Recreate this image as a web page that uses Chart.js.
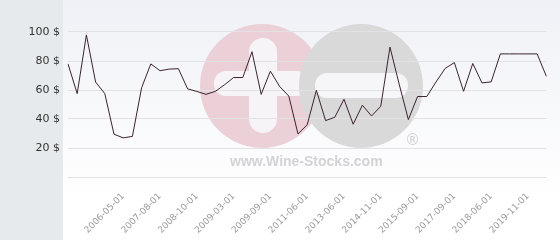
<!DOCTYPE html>
<html>
<head>
<meta charset="utf-8">
<script src="https://cdn.jsdelivr.net/npm/chart.js@4/dist/chart.umd.min.js"></script>
<style>
  html, body { margin: 0; padding: 0; background: #fff; }
  canvas { display: block; }
</style>
</head>
<body>
<canvas id="priceChart" width="560" height="240"></canvas>
<script>
// price history (USD)
const dates = [
    '2005-02-01', '2005-06-01', '2005-09-01', '2005-11-01', '2006-01-01', '2006-03-01',
    '2006-05-01', '2006-09-01', '2006-12-01', '2007-03-01', '2007-08-01', '2007-11-01',
    '2008-02-01', '2008-06-01', '2008-10-01', '2008-12-01', '2009-01-01', '2009-02-01',
    '2009-03-01', '2009-05-01', '2009-06-01', '2009-08-01', '2009-09-01', '2010-02-01',
    '2010-07-01', '2010-12-01', '2011-06-01', '2011-12-01', '2012-06-01', '2012-12-01',
    '2013-06-01', '2013-10-01', '2014-02-01', '2014-06-01', '2014-11-01', '2015-02-01',
    '2015-04-01', '2015-06-01', '2015-09-01', '2016-03-01', '2016-09-01', '2017-03-01',
    '2017-09-01', '2017-11-01', '2018-01-01', '2018-03-01', '2018-06-01', '2018-11-01',
    '2019-02-01', '2019-06-01', '2019-11-01', '2020-03-01', '2020-07-01',
];
const prices = [
    78, 57.5, 98, 65.5, 57.5, 29.5, 27, 28, 61.5, 78, 73.3, 74.4,
    74.7, 60.8, 59, 57, 59, 63.5, 68.6, 68.6, 86.4, 57, 73, 62.5,
    55.8, 29.7, 36, 59.8, 38.9, 41.2, 53.6, 36.4, 49.5, 42.1, 48.8, 89.6,
    64, 39.6, 55.5, 55.5, 65.5, 74.9, 78.9, 59.1, 78.3, 64.9, 65.6, 84.9,
    84.9, 84.9, 84.9, 84.9, 69.4,
];
// dates that get a label on the x axis
const shownDates = [
    '2006-05-01', '2007-08-01', '2008-10-01', '2009-03-01', '2009-09-01', '2011-06-01',
    '2013-06-01', '2014-11-01', '2015-09-01', '2017-09-01', '2018-06-01', '2019-11-01',
];
const yTicks = [0, 20, 40, 60, 80, 100];

// side panel, soft background and the site watermark
const backdrop = {
    id: 'backdrop',
    beforeDraw(chart) {
        const c = chart.ctx;
        const w = chart.width, h = chart.height;
        c.save();
        c.fillStyle = '#e6eaed';
        c.fillRect(0, 0, 63, h);
        const g = c.createLinearGradient(0, 0, 0, 200);
        g.addColorStop(0, '#f0f1f6');
        g.addColorStop(1, '#ffffff');
        c.fillStyle = g;
        c.fillRect(63, 0, w - 63, h);

        // watermark
        c.fillStyle = '#ebd0d7';
        c.beginPath(); c.arc(262, 86, 62, 0, Math.PI * 2); c.fill();
        c.fillStyle = '#f6f4f7';
        c.beginPath(); c.roundRect(249, 38, 28, 95, 14); c.fill();
        c.beginPath(); c.roundRect(214, 71, 95, 25, 12); c.fill();
        c.fillStyle = '#d9d9da';
        c.beginPath(); c.arc(361, 86, 62, 0, Math.PI * 2); c.fill();
        c.fillStyle = '#f6f6f8';
        c.beginPath(); c.roundRect(315, 73, 93, 25, 12); c.fill();
        c.fillStyle = '#d3d3d5';
        c.font = 'bold 14px "Liberation Sans", Arial, sans-serif';
        c.textBaseline = 'alphabetic';
        c.fillText('www.Wine-Stocks.com', 230, 166);
        c.font = '15px "DejaVu Sans", sans-serif';
        c.fillText('®', 405, 145);
        c.restore();
    }
};

new Chart(document.getElementById('priceChart'), {
    type: 'line',
    data: {
        labels: dates,
        datasets: [{
            data: prices,
            borderColor: '#3b2330',
            borderWidth: 1,
            pointRadius: 0,
            tension: 0,
            fill: false,
        }],
    },
    options: {
        responsive: false,
        animation: false,
        layout: { padding: { left: 0, right: 5, top: 0, bottom: 0 } },
        plugins: { legend: { display: false }, tooltip: { enabled: false } },
        scales: {
            x: {
                border: { display: false },
                grid: { display: false },
                afterFit: (s) => { s.height = 63; },
                ticks: {
                    autoSkip: false,
                    minRotation: 45,
                    maxRotation: 45,
                    padding: 6,
                    color: '#9a9a9a',
                    font: { family: 'DejaVu Sans', size: 9 },
                    callback: function (v) {
                        const d = this.getLabelForValue(v);
                        return shownDates.includes(d) ? d : '';
                    },
                },
            },
            y: {
                min: 0,
                max: 112,
                border: { display: false },
                afterFit: (s) => { s.width = 68; },
                afterBuildTicks: (s) => { s.ticks = yTicks.map(v => ({ value: v })); },
                grid: { color: '#e2e2e4', drawTicks: false },
                ticks: {
                    padding: 8,
                    color: '#333',
                    font: { family: 'DejaVu Sans', size: 11 },
                    callback: (v) => v === 0 ? '' : v + ' $',
                },
            },
        },
    },
    plugins: [backdrop],
});
</script>
</body>
</html>
